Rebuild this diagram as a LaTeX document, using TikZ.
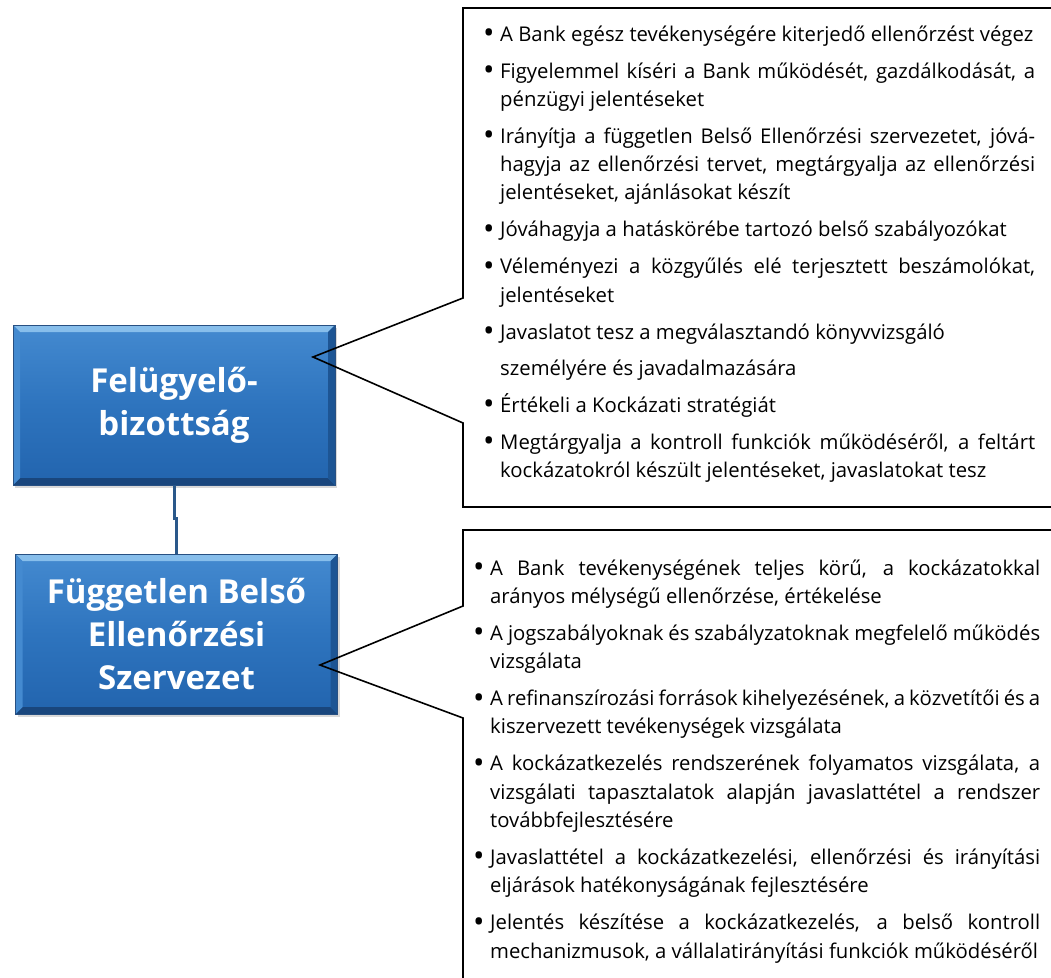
\documentclass[tikz,border=0pt]{standalone}
\usepackage{fontspec}
\setmainfont{Open Sans}
\usetikzlibrary{shadows}

\definecolor{kekfent}{RGB}{68,138,208}
\definecolor{kekkozep}{RGB}{46,116,190}
\definecolor{keklent}{RGB}{34,100,174}
\definecolor{kekperem}{RGB}{40,80,130}
\definecolor{kekfeny}{RGB}{135,190,235}
\definecolor{kekarny}{RGB}{25,70,125}
\definecolor{kekvonal}{RGB}{42,88,138}

\newlength{\behuz}
\newcommand{\tetel}[1]{\par\hangindent=\behuz\relax\hangafter=1\relax\noindent
  \makebox[\behuz][l]{\raisebox{-0.12em}{\scalebox{1.5}{\textbullet}}}#1}
\newcommand{\listabeall}[1]{\fontsize{20.3}{28.3}\selectfont\tolerance=9999\relax
  \hyphenpenalty=10000\relax\emergencystretch=20pt\relax
  \setlength{\behuz}{#1}\setlength{\parskip}{8.7pt}}

\begin{document}
\begin{tikzpicture}[x=1pt,y=-1pt,
  szerv/.style={rectangle, minimum width=322pt, minimum height=160pt, inner sep=0pt,
    align=center, text=white, font=\fontsize{33}{43}\selectfont\bfseries,
    top color=kekfent, bottom color=keklent, middle color=kekkozep,
    draw=kekperem, line width=0.6pt,
    drop shadow={opacity=0.3, shadow xshift=2pt, shadow yshift=-3pt},
    path picture={
      \fill[kekfeny] (path picture bounding box.north west) -- (path picture bounding box.north east)
        -- ([shift={(-7pt,-7pt)}]path picture bounding box.north east)
        -- ([shift={(7pt,-7pt)}]path picture bounding box.north west) -- cycle;
      \fill[kekarny] (path picture bounding box.south west) -- (path picture bounding box.south east)
        -- ([shift={(-7pt,7pt)}]path picture bounding box.south east)
        -- ([shift={(7pt,7pt)}]path picture bounding box.south west) -- cycle;
      \fill[kekfent] (path picture bounding box.north west) -- ([shift={(7pt,-7pt)}]path picture bounding box.north west)
        -- ([shift={(7pt,7pt)}]path picture bounding box.south west) -- (path picture bounding box.south west) -- cycle;
      \fill[keklent!85!black] (path picture bounding box.north east) -- ([shift={(-7pt,-7pt)}]path picture bounding box.north east)
        -- ([shift={(-7pt,7pt)}]path picture bounding box.south east) -- (path picture bounding box.south east) -- cycle;
    }},
  lista/.style={anchor=north west, inner sep=0pt, align=justify},
  buborek/.style={draw=black, line width=1.6pt, line join=miter},
  kapocs/.style={draw=kekvonal, line width=3pt}]
\useasboundingbox (0,0) rectangle (1051,977);

% szervezeti egysegek
\node[szerv] (fb) at (174,405) {Felügyelő-\\bizottság};
\node[szerv] (fbe) at (176.5,634) {Független Belső\\Ellenőrzési\\Szervezet};
\draw[kapocs] (fb.south) -- ++(0,33) -| (fbe.north);

% buborekok
\coordinate (fbcsucs) at (313,357);
\coordinate (fbecsucs) at (320,665);
\draw[buborek] (1060,8) -- (463,8) -- (463,298) -- (fbcsucs) -- (463,423) -- (463,507) -- (1060,507);
\draw[buborek] (1060,530) -- (463,530) -- (463,606) -- (fbecsucs) -- (463,718) -- (463,990);

% feladatok
\node[lista, text width=552pt] (fbfel) at (483,3.8) {\listabeall{17pt}%
\tetel{\rule{0pt}{21pt}A Bank egész tevékenységére kiterjedő ellenőrzést végez}
\tetel{Figyelemmel kíséri a Bank működését, gazdálkodását, a\linebreak pénzügyi jelentéseket}
\tetel{Irányítja a független Belső Ellenőrzési szervezetet, jóvá-\linebreak hagyja az ellenőrzési tervet, megtárgyalja az ellenőrzési\linebreak jelentéseket, ajánlásokat készít}
\tetel{Jóváhagyja a hatáskörébe tartozó belső szabályozókat}
\tetel{Véleményezi a közgyűlés elé terjesztett beszámolókat,\linebreak jelentéseket}
\tetel{Javaslatot tesz a megválasztandó könyvvizsgáló\vadjust{\vskip 7.7pt}\newline személyére és javadalmazására}
\tetel{Értékeli a Kockázati stratégiát}
\tetel{Megtárgyalja a kontroll funkciók működéséről, a feltárt\linebreak kockázatokról készült jelentéseket, javaslatokat tesz}\par};

\node[lista, text width=567pt] (fbefel) at (473,537.8) {\listabeall{17pt}%
\tetel{\rule{0pt}{21pt}A Bank tevékenységének teljes körű, a kockázatokkal\linebreak arányos mélységű ellenőrzése, értékelése}
\tetel{A jogszabályoknak és szabályzatoknak megfelelő működés\linebreak vizsgálata}
\tetel{A refinanszírozási források kihelyezésének, a közvetítői és a\linebreak kiszervezett tevékenységek vizsgálata}
\tetel{A kockázatkezelés rendszerének folyamatos vizsgálata, a\linebreak vizsgálati tapasztalatok alapján javaslattétel a rendszer\linebreak továbbfejlesztésére}
\tetel{Javaslattétel a kockázatkezelési, ellenőrzési és irányítási\linebreak eljárások hatékonyságának fejlesztésére}
\tetel{Jelentés készítése a kockázatkezelés, a belső kontroll\linebreak mechanizmusok, a vállalatirányítási funkciók működéséről}\par};
\end{tikzpicture}
\end{document}
